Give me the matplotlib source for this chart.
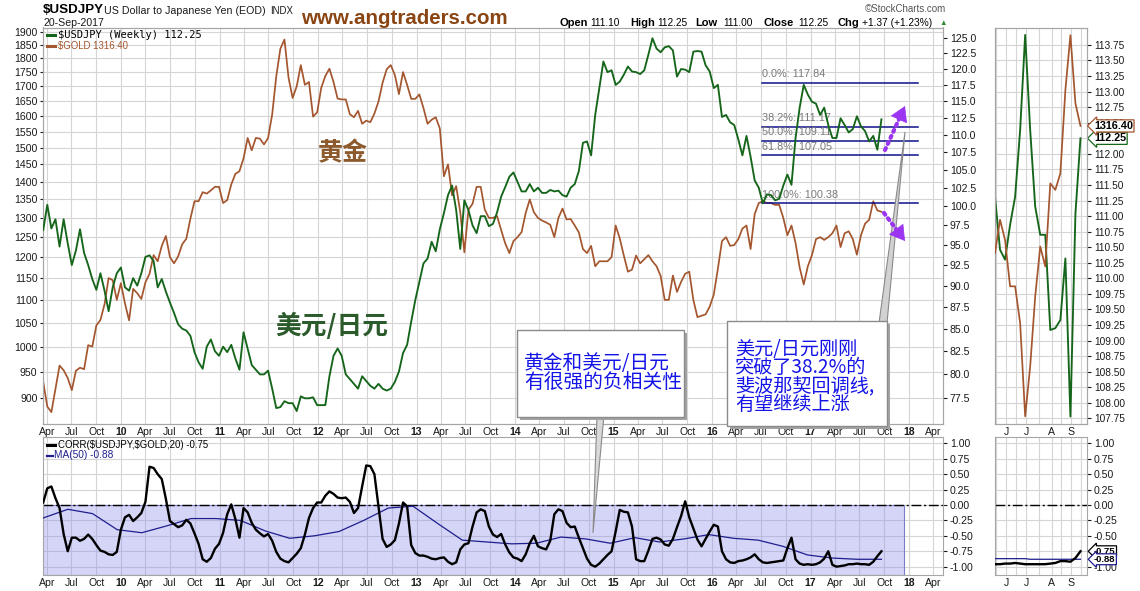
import numpy as np
import matplotlib
matplotlib.use("Agg")
import matplotlib.pyplot as plt
from matplotlib.ticker import FixedLocator, NullLocator, NullFormatter, FuncFormatter
from matplotlib.patches import Rectangle, Polygon

plt.rcParams['font.family'] = ['Liberation Sans', 'DejaVu Sans']
CJK = ['Noto Sans CJK SC', 'DejaVu Sans']

W, H = 1140, 591

# ------------------------------------------------------------------ data
date_start, date_end = 2009.21, 2017.72

usdjpy = [
    96.9, 100.2, 97.1, 98.3, 94.8, 98.3, 95.2, 92.5, 94.3, 97.0,
    94.0, 92.5, 90.8, 89.5, 91.5, 89.4, 87.0, 89.8, 91.5, 92.2,
    89.8, 89.4, 90.9, 90.0, 91.5, 93.5, 93.7, 93.0, 89.8, 90.8,
    89.3, 88.0, 86.8, 85.5, 85.0, 84.8, 84.2, 82.4, 81.3, 80.6,
    83.0, 83.8, 82.5, 82.0, 83.0, 82.4, 83.2, 81.7, 80.5, 84.6,
    82.8, 81.0, 80.5, 80.0, 80.0, 80.4, 78.5,
    76.5, 76.6, 77.2, 77.0, 77.0, 76.2, 77.7, 77.5, 77.5, 77.6,
    76.8, 76.8, 76.8, 79.8, 82.0, 82.8, 82.0, 80.0, 79.5, 79.0,
    78.5, 79.8, 79.3, 78.8, 78.5, 79.0, 78.5, 78.3, 78.5, 79.2,
    80.3, 82.3, 83.2, 85.8, 88.3, 90.5, 92.7, 93.3, 95.4, 94.2,
    97.0, 99.1, 101.5, 102.8, 99.5, 94.5, 100.8, 99.5, 97.5, 96.5,
    98.7, 98.7, 97.4, 97.7, 99.2, 101.3,
    102.6, 104.0, 104.6, 103.3, 102.0, 102.0, 103.0, 102.0, 102.5, 101.8,
    101.8, 102.2, 102.0, 102.1, 101.5, 101.3, 102.5, 103.0, 104.8, 108.8,
    109.0, 107.0, 112.9, 117.0, 121.2, 119.5, 119.8, 117.5, 118.0, 119.1,
    120.4, 119.6, 119.5, 119.2, 119.8, 122.3, 125.0, 123.3, 122.7, 123.5,
    123.7, 123.0, 118.8, 120.0, 119.9, 119.5, 122.8, 122.9, 122.8, 120.6,
    119.6, 117.0, 117.5, 112.6, 112.9, 111.8,
    111.4, 109.3, 107.0, 109.8, 106.8, 103.5, 102.5, 100.4, 101.6, 101.5,
    100.8, 101.0, 102.8, 104.3, 102.9, 109.5, 114.0, 117.5, 116.0, 114.9,
    114.6, 112.9, 114.0, 111.4, 109.5, 109.5, 112.4, 111.4, 110.3, 110.8,
    112.7, 111.2, 110.5, 109.0, 109.8, 107.8, 112.25,
]

gold = [
    931, 885, 875, 918, 962, 953, 938, 915, 952, 958,
    955, 1003, 1000, 1044, 1056, 1090, 1150, 1145, 1100, 1138,
    1092, 1055, 1125, 1115, 1102, 1140, 1160, 1205, 1190, 1228,
    1253, 1200, 1185, 1202, 1232, 1246, 1298, 1345, 1345, 1370,
    1366, 1375, 1385, 1385, 1340, 1348, 1392, 1422, 1430, 1468,
    1530, 1492, 1530, 1528, 1510, 1530, 1605,
    1735, 1835, 1870, 1730, 1660, 1700, 1775, 1705, 1715, 1598,
    1612, 1695, 1736, 1762, 1715, 1658, 1655, 1655, 1606, 1596,
    1617, 1575, 1585, 1580, 1608, 1648, 1712, 1760, 1775, 1740,
    1673, 1750, 1705, 1657, 1657, 1672, 1626, 1575, 1588, 1596,
    1560, 1415, 1450, 1361, 1387, 1315, 1212, 1322, 1338, 1385,
    1385, 1322, 1300, 1300, 1305, 1268,
    1234, 1210, 1240, 1250, 1263, 1313, 1350, 1315, 1300, 1293,
    1288, 1282, 1250, 1300, 1325, 1296, 1297, 1280, 1262, 1220,
    1210, 1228, 1178, 1190, 1190, 1190, 1200, 1280, 1247, 1204,
    1165, 1170, 1204, 1185, 1195, 1205, 1190, 1178, 1155, 1100,
    1100, 1156, 1118, 1141, 1160, 1165, 1100, 1062, 1065, 1068,
    1085, 1112, 1172, 1240, 1250, 1228,
    1230, 1245, 1272, 1280, 1220, 1310, 1340, 1345, 1340, 1340,
    1335, 1335, 1300, 1255, 1280, 1235, 1175, 1135, 1178, 1205,
    1245, 1250, 1243, 1250, 1260, 1280, 1225, 1260, 1265, 1245,
    1206, 1255, 1285, 1295, 1345, 1320, 1316.4,
]

corr20 = [
    0.04, 0.27, 0.30, 0.11, -0.05, -0.47, -0.75, -0.53, -0.53, -0.58,
    -0.55, -0.48, -0.55, -0.65, -0.74, -0.76, -0.80, -0.81, -0.76, -0.40,
    -0.20, -0.16, -0.26, -0.20, -0.13, 0.05, 0.62, 0.60, 0.50, 0.42,
    0.10, -0.26, -0.31, -0.36, -0.33, -0.24, -0.30, -0.46, -0.63, -0.88,
    -0.92, -0.86, -0.71, -0.63, -0.45, -0.15, 0.01, -0.23, -0.53, -0.05,
    -0.12, -0.29, -0.40, -0.46, -0.51, -0.47, -0.58, -0.76, -0.87, -0.91,
    -0.93, -0.86, -0.79, -0.70, -0.48, -0.21, -0.05, 0.04, 0.04, 0.15,
    0.22, 0.18, 0.12, 0.11, 0.12, 0.05, -0.13, -0.05, 0.30, 0.64,
    0.63, 0.50, -0.03, -0.55, -0.68, -0.64, -0.57, -0.30,
    0.04, -0.02, -0.65, -0.78, -0.82, -0.82, -0.84, -0.87, -0.88, -0.86,
    -0.85, -0.92, -0.96, -0.93, -0.72, -0.64, -0.62, -0.35, -0.12, -0.07,
    -0.10, -0.35, -0.48, -0.52, -0.47, -0.64, -0.77, -0.85, -0.87, -0.91,
    -0.80, -0.62, -0.50, -0.67, -0.70, -0.72, -0.58, -0.15, -0.07, -0.10,
    -0.29, -0.36, -0.35, -0.53, -0.70, -0.87, -0.97, -1.00, -0.95, -0.88,
    -0.81, -0.75, -0.43, -0.08, -0.11, -0.12, -0.35, -0.88, -0.91, -0.91,
    -0.74, -0.55, -0.53, -0.56, -0.64, -0.66, -0.55, -0.36, -0.18, 0.06,
    -0.20, -0.38, -0.56, -0.67, -0.55, -0.43, -0.32,
    -0.35, -0.75, -0.88, -0.93, -0.94, -0.91, -0.90, -0.88, -0.85, -0.80,
    -0.88, -0.93, -0.94, -0.93, -0.92, -0.91, -0.90, -0.70, -0.53, -0.88,
    -0.95, -0.97, -0.96, -0.97, -0.96, -0.93, -0.87, -0.75, -0.97, -1.00,
    -0.99, -0.98, -0.96, -0.96, -0.95, -0.96, -0.96, -0.97, -0.92, -0.83, -0.75,
]

corr_ma50 = [
    -0.21, -0.07, -0.14, -0.40, -0.45, -0.34, -0.22, -0.22, -0.25, -0.42,
    -0.54, -0.50, -0.43, -0.25, -0.05, -0.02, -0.30, -0.57, -0.60, -0.63,
    -0.62, -0.52, -0.55, -0.62, -0.53, -0.60, -0.55, -0.48, -0.54, -0.57,
    -0.67, -0.81, -0.86, -0.88, -0.88,
]

# last ~4 months, weekly
mini_usdjpy = [111.31, 110.46, 110.30, 110.86, 111.31, 112.38, 113.91, 112.38, 111.15,
               110.70, 110.70, 109.17, 109.20, 109.33, 110.32, 107.78, 111.04, 112.25]
mini_gold = [1271.7, 1283.4, 1276.3, 1260.0, 1260.0, 1247.1, 1214.3, 1231.9, 1256.5,
             1274.0, 1267.0, 1296.2, 1293.9, 1299.7, 1329.0, 1348.3, 1324.3, 1316.4]
mini_corr20 = [-0.96, -0.96, -0.95, -0.95, -0.94, -0.95, -0.96, -0.96, -0.96,
               -0.96, -0.96, -0.95, -0.94, -0.91, -0.91, -0.92, -0.86, -0.75]
mini_ma50 = [-0.87, -0.87, -0.87, -0.87, -0.87, -0.87, -0.87, -0.88, -0.88,
             -0.88, -0.88, -0.88, -0.88, -0.88, -0.88, -0.88, -0.88, -0.88]
mini_month_labels = ['J', 'J', 'A', 'S']
mini_month_pos = [2.2, 6.2, 11.3, 15.2]

fib_high, fib_low = 117.84, 100.38
fib_pcts = [0.0, 38.2, 50.0, 61.8, 100.0]

gold_ticks = list(range(900, 1901, 50))
usd_ticks = [77.5 + 2.5 * i for i in range(20)]
corr_ticks = [-1.0, -0.75, -0.5, -0.25, 0.0, 0.25, 0.5, 0.75, 1.0]
mini_ticks = [107.75 + 0.25 * i for i in range(25)]

quote = {'Open': '111.10', 'High': '112.25', 'Low': '111.00', 'Close': '112.25',
         'Chg': '+1.37 (+1.23%)'}

# ------------------------------------------------------------------ style
GRID = '#d5d5d5'
SPINE = '#a6a6a6'
TXT = '#1a1a1a'
GREEN = '#15661a'
BROWN = '#a4562e'
NAVY = '#1e1e8e'
PURPLE = '#9b35f2'
TICK_FS = 7.6

fig = plt.figure(figsize=(W / 100, H / 100), dpi=100)
fig.patch.set_facecolor('white')


def px_axes(l, t, r, b, **kw):
    return fig.add_axes([l / W, 1 - b / H, (r - l) / W, (b - t) / H], **kw)


def style(ax):
    for s in ax.spines.values():
        s.set_color(SPINE)
        s.set_linewidth(0.8)


MAIN_L, MAIN_R = 43, 943
MAIN_T, MAIN_B = 27.5, 424
LOW_T, LOW_B = 437.3, 575
MINI_L, MINI_R = 995, 1087
XLIM = (2009.208, 2018.345)
SHADE_END = 2017.95

# x ticks (quarters, years bold)
xt, xl, xb = [], [], []
for y in range(2009, 2019):
    if y > 2009:
        xt.append(y); xl.append(f"{y % 100:02d}"); xb.append(True)
    for m, f in (('Apr', 0.247), ('Jul', 0.496), ('Oct', 0.748)):
        if XLIM[0] <= y + f <= XLIM[1]:
            xt.append(y + f); xl.append(m); xb.append(False)


def set_xdates(ax):
    ax.set_xlim(XLIM)
    ax.set_xticks(xt)
    ax.set_xticklabels(xl)
    for lab, b in zip(ax.get_xticklabels(), xb):
        if b:
            lab.set_fontweight('bold')
            lab.set_fontsize(TICK_FS + 0.6)
    ax.tick_params(axis='x', length=0, pad=2.5, labelsize=TICK_FS, colors=TXT)


t = np.linspace(date_start, date_end, len(usdjpy))
t_ma = np.linspace(date_start, date_end, len(corr_ma50))

# ------------------------------------------------------------------ main panel
ax_g = px_axes(MAIN_L, MAIN_T, MAIN_R, MAIN_B)
style(ax_g)
set_xdates(ax_g)
ax_g.set_yscale('log')
ax_g.set_ylim(854.1, 1916.4)
ax_g.yaxis.set_major_locator(FixedLocator(gold_ticks))
ax_g.yaxis.set_major_formatter(FuncFormatter(lambda v, p: f"{v:.0f}"))
ax_g.yaxis.set_minor_locator(NullLocator())
ax_g.yaxis.set_minor_formatter(NullFormatter())
ax_g.tick_params(axis='y', length=2, pad=2, labelsize=TICK_FS, colors=TXT)
ax_g.grid(True, color=GRID, lw=0.8)
ax_g.set_axisbelow(True)
ax_g.plot(t, gold, color=BROWN, lw=1.25, zorder=3)

ax_u = ax_g.twinx()
style(ax_u)
ax_u.set_yscale('log')
ax_u.set_ylim(74.9, 126.8)
ax_u.yaxis.set_major_locator(FixedLocator(usd_ticks))
ax_u.yaxis.set_major_formatter(FuncFormatter(lambda v, p: f"{v:.1f}"))
ax_u.yaxis.set_minor_locator(NullLocator())
ax_u.yaxis.set_minor_formatter(NullFormatter())
ax_u.tick_params(axis='y', length=3, pad=2, labelsize=TICK_FS, colors=TXT)
ax_u.set_xlim(XLIM)

fib_t0, fib_t1 = 2016.51, 2018.09
for p in fib_pcts:
    lvl = fib_high - p / 100.0 * (fib_high - fib_low)
    ax_u.plot([fib_t0, fib_t1], [lvl, lvl], color='#10108a', lw=1.1, zorder=2)
    ax_u.annotate(f"{p:.1f}%: {lvl:.2f}", xy=(fib_t0, lvl), xytext=(0, 2.5),
                  textcoords='offset points', va='bottom', ha='left',
                  fontsize=7.8, color='#7a7a7a', zorder=2)
ax_u.plot(t, usdjpy, color=GREEN, lw=1.35, zorder=4)

# ------------------------------------------------------------------ lower panel
ax_c = px_axes(MAIN_L, LOW_T, MAIN_R, LOW_B)
style(ax_c)
set_xdates(ax_c)
ax_c.set_ylim(-1.135, 1.097)
ax_c.set_yticks(corr_ticks)
ax_c.yaxis.set_major_formatter(FuncFormatter(lambda v, p: f"{v:.2f}"))
ax_c.yaxis.tick_right()
ax_c.tick_params(axis='y', length=3, pad=2, labelsize=TICK_FS, colors=TXT)
ax_c.grid(True, color=GRID, lw=0.8)
ax_c.set_axisbelow(True)
ax_c.add_patch(Rectangle((XLIM[0], -1.135), SHADE_END - XLIM[0], 1.135,
                         fc=(0.55, 0.55, 0.92, 0.36), ec='#7c7cc8', lw=0.8, zorder=1))
ax_c.axhline(0, color='black', lw=1.0, ls=(0, (7, 2, 1.5, 2)), zorder=2)
ax_c.plot(t_ma, corr_ma50, color=NAVY, lw=0.9, zorder=3)
ax_c.plot(t, corr20, color='black', lw=1.7, zorder=4)

# ------------------------------------------------------------------ mini panels
xm = np.arange(len(mini_usdjpy))
mini_grid_x = [0.2, 2.2, 4.2, 6.2, 8.7, 11.3, 13.2, 15.2, 17.2]


def mini_x(ax):
    ax.set_xlim(0, 18.3)
    ax.set_xticks(mini_month_pos)
    ax.set_xticklabels(mini_month_labels)
    ax.xaxis.set_minor_locator(FixedLocator(mini_grid_x))
    ax.tick_params(axis='x', which='both', length=0, pad=2.5, labelsize=TICK_FS, colors=TXT)
    ax.grid(True, which='both', color=GRID, lw=0.8)
    ax.set_axisbelow(True)


ax_m = px_axes(MINI_L, MAIN_T, MINI_R, MAIN_B)
style(ax_m)
mini_x(ax_m)
ax_m.set_ylim(107.66, 114.03)
ax_m.set_yticks(mini_ticks)
ax_m.yaxis.set_major_formatter(FuncFormatter(lambda v, p: f"{v:.2f}"))
ax_m.plot(xm, mini_usdjpy, color=GREEN, lw=1.35, zorder=4)

ax_mg = ax_m.twinx()
ax_mg.set_ylim(1211.6, 1351.0)
ax_mg.set_yticks([])
style(ax_mg)
ax_mg.plot(xm, mini_gold, color=BROWN, lw=1.25, zorder=3)
# twinx moves the host's ticks to the left: put them back on the right
ax_m.yaxis.tick_right()
ax_m.yaxis.set_label_position('right')
ax_m.tick_params(axis='y', length=3, pad=2, labelsize=TICK_FS - 0.3, colors=TXT,
                 left=False, labelleft=False, right=True, labelright=True)

ax_mc = px_axes(MINI_L, LOW_T, MINI_R, LOW_B)
style(ax_mc)
mini_x(ax_mc)
ax_mc.set_ylim(-1.135, 1.097)
ax_mc.set_yticks(corr_ticks)
ax_mc.yaxis.set_major_formatter(FuncFormatter(lambda v, p: f"{v:.2f}"))
ax_mc.yaxis.tick_right()
ax_mc.tick_params(axis='y', length=3, pad=2, labelsize=TICK_FS, colors=TXT)
ax_mc.axhline(0, color='black', lw=1.0, ls=(0, (7, 2, 1.5, 2)), zorder=2)
ax_mc.plot(xm, mini_ma50, color=NAVY, lw=0.9, zorder=3)
ax_mc.plot(xm, mini_corr20, color='black', lw=1.7, zorder=4)


def tag(ax, val, text, ec, fs=7.8):
    ax.annotate(text, xy=(1.0, val), xycoords=('axes fraction', 'data'),
                xytext=(5, 0), textcoords='offset points', ha='left', va='center',
                fontsize=fs, fontweight='bold', color='black', annotation_clip=False,
                bbox=dict(boxstyle='larrow,pad=0.1', fc='white', ec=ec, lw=0.9),
                zorder=30)


tag(ax_mg, mini_gold[-1], f"{mini_gold[-1]:.2f}", BROWN)
tag(ax_m, mini_usdjpy[-1], f"{mini_usdjpy[-1]:.2f}", GREEN)
tag(ax_mc, mini_corr20[-1], f"{mini_corr20[-1]:.2f}", 'black', fs=6.8)
tag(ax_mc, mini_ma50[-1], f"{mini_ma50[-1]:.2f}", NAVY, fs=6.8)

# ------------------------------------------------------------------ overlay (pixel coords)
ov = fig.add_axes([0, 0, 1, 1], zorder=50)
ov.set_xlim(0, W)
ov.set_ylim(H, 0)
ov.axis('off')

# header
ov.text(43, 10, '$USDJPY', fontsize=9.6, fontweight='bold', va='center', color='black')
ov.text(104, 10.5, 'US Dollar to Japanese Yen (EOD)', fontsize=7.7, va='center', color=TXT)
ov.text(270, 10.5, 'INDX', fontsize=6.9, va='center', color=TXT)
ov.text(43, 23.5, '20-Sep-2017', fontsize=7.6, va='center', color=TXT)
ov.text(301, 19, 'www.angtraders.com', fontsize=14.8, fontweight='bold', va='center',
        color='#8a4513')
ov.text(946, 9.5, '\u00a9StockCharts.com', fontsize=7.0, va='center', ha='right', color='#555555')
pieces = [(559, 'Open', True), (590, quote['Open'], False), (630, 'High', True),
          (657, quote['High'], False), (695, 'Low', True), (723, quote['Low'], False),
          (763, 'Close', True), (798, quote['Close'], False), (838, 'Chg', True),
          (862, quote['Chg'], False)]
for x, s, b in pieces:
    ov.text(x, 23.5, s, fontsize=8.0 if b else 7.3, fontweight='bold' if b else 'normal',
            va='center', color='black')
ov.text(939, 23.5, '\u25b2', fontsize=5.5, va='center', color='#2e8b2e')

# legends
ov.plot([47, 55], [35, 35], color=GREEN, lw=2.2)
ov.text(58.5, 35, f"$USDJPY (Weekly) {usdjpy[-1]:.2f}", family='DejaVu Sans Mono', fontsize=7.5,
        va='center', color='black', parse_math=False)
ov.plot([47, 55], [46, 46], color=BROWN, lw=2.2)
ov.text(58.5, 46, f"$GOLD {gold[-1]:.2f}", fontsize=6.9, va='center', color=BROWN, parse_math=False)
ov.plot([47, 55], [445, 445], color='black', lw=2.2)
ov.text(58.5, 445, f"CORR($USDJPY,$GOLD,20) {corr20[-1]:.2f}", fontsize=6.9, va='center',
        color='black', parse_math=False)
ov.plot([47, 53], [455.5, 455.5], color=NAVY, lw=1.6)
ov.text(53.5, 455.5, f"MA(50) {corr_ma50[-1]:.2f}", fontsize=7.3, va='center', color=NAVY)

# big labels
ov.text(343, 153, '黄金', family=CJK, fontsize=18, fontweight='bold', ha='center', va='center',
        color='#8c5a2c')
ov.text(332, 326, '美元/日元', family=CJK, fontsize=18.5, fontweight='bold', ha='center', va='center',
        color='#2b5a2b')

# callout pointers + boxes
ov.add_patch(Polygon([(597, 415), (604, 415), (593, 533)], closed=True, fc='#d9d9d9', ec='#8a8a8a',
                     lw=0.8, zorder=2))
ov.add_patch(Polygon([(879, 323), (887, 323), (905, 132)], closed=True, fc='#d2d2d2', ec='#8a8a8a',
                     lw=0.8, zorder=2))
for (x0, y0, x1, y1) in [(517, 330, 684, 417), (727, 321, 887, 426)]:
    ov.add_patch(Rectangle((x0 + 3, y0 + 3), x1 - x0, y1 - y0, fc='#a3a3a3', ec='none', zorder=3))
    ov.add_patch(Rectangle((x0, y0), x1 - x0, y1 - y0, fc='white', ec='#8a8a8a', lw=1.0, zorder=4))

BLUE = '#1414e8'
for y, s in [(363.5, '黄金和美元/日元'), (382, '有很强的负相关性')]:
    ov.text(524, y, s, family=CJK, fontsize=14.2, va='center', ha='left', color=BLUE, zorder=5)
for y, s in [(349, '美元/日元刚刚'), (367.5, '突破了38.2%的'), (386, '斐波那契回调线,'),
             (404.5, '有望继续上涨')]:
    ov.text(735, y, s, family=CJK, fontsize=13.8, va='center', ha='left', color=BLUE, zorder=5)


# purple dotted arrows
def dotted_arrow(p0, p1):
    dx, dy = p1[0] - p0[0], p1[1] - p0[1]
    ov.plot([p0[0], p0[0] + dx * 0.72], [p0[1], p0[1] + dy * 0.72], color=PURPLE, lw=3.0,
            ls=(0, (0.5, 1.1)), dash_capstyle='round', zorder=6)
    ov.annotate('', xy=p1, xytext=(p1[0] - dx * 0.45, p1[1] - dy * 0.45),
                arrowprops=dict(arrowstyle='-|>,head_length=1.0,head_width=0.6', color=PURPLE,
                                lw=0.5, shrinkA=0, shrinkB=0), zorder=6)


dotted_arrow((885, 150), (905, 106))
dotted_arrow((884, 213), (905, 241))

fig.savefig('out.png', dpi=100)
